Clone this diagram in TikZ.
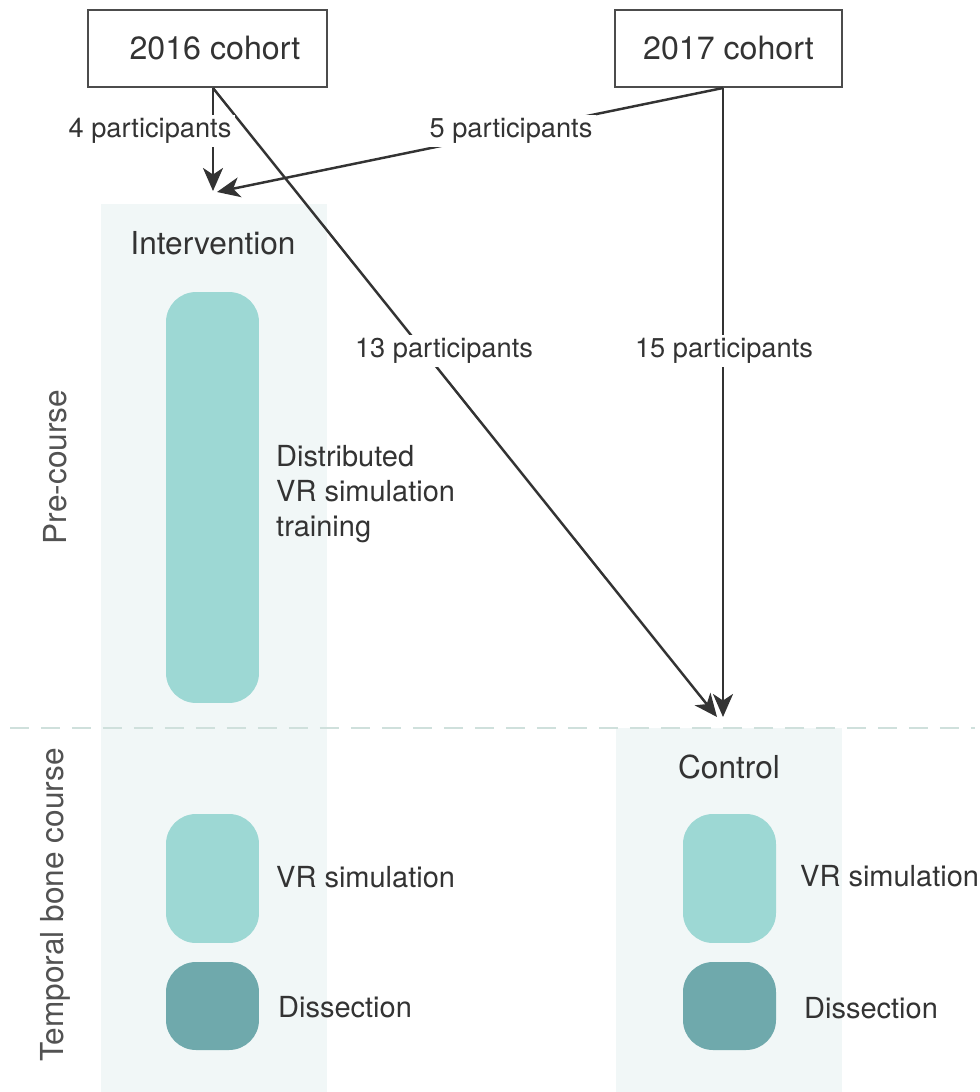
\documentclass[tikz,border=0pt]{standalone}
\usepackage{fontspec}
\setmainfont{TeX Gyre Heros}
\usetikzlibrary{arrows.meta}
\definecolor{txt}{HTML}{333333}
\definecolor{colbg}{HTML}{F1F7F7}
\definecolor{light}{HTML}{9DD8D4}
\definecolor{dark}{HTML}{6FA9AC}
\definecolor{dashc}{HTML}{CFE0DC}
\definecolor{arr}{HTML}{333333}
\tikzset{
  cohort/.style={draw=black!70, line width=0.8pt, minimum height=1.54cm, font=\fontsize{18.3}{22}\selectfont, text=txt},
  head/.style={font=\fontsize{18}{22}\selectfont, text=txt},
  side/.style={font=\fontsize{18}{22}\selectfont, text=txt!85, rotate=90},
  lbl/.style={font=\fontsize{16.5}{20}\selectfont, text=txt, anchor=west, align=left},
  plbl/.style={font=\fontsize{15.5}{19}\selectfont, text=txt, fill=white, inner sep=2pt},
  block/.style={rounded corners=0.6cm, minimum width=1.86cm, inner sep=0pt},
  conn/.style={draw=arr, line width=1.4pt, -{Stealth[length=0.46cm, width=0.4cm, inset=0.13cm]}},
}
\begin{document}
\begin{tikzpicture}[x=0.02cm, y=-0.02cm]
\useasboundingbox (0,0) rectangle (980,1092);
% column backgrounds
\fill[colbg] (101,204) rectangle (327,1092);
\fill[colbg] (616,728) rectangle (842,1092);
% dashed separator
\draw[dashc, line width=1.4pt, dash pattern=on 0.38cm off 0.24cm] (10,728) -- (975,728);
% side labels
\node[side] (pre) at (55,467) {Pre-course};
\node[side] (tbc) at (55,905) {Temporal bone course};
% cohorts
\node[cohort, minimum width=4.78cm] (c16) at (207.5,48.5) {\hspace*{0.3cm}2016 cohort};
\node[cohort, minimum width=4.54cm] (c17) at (728.5,48.5) {2017 cohort};
% group headings
\node[head] (int) at (213,243) {Intervention};
\node[head] (ctl) at (729,767) {Control};
% blocks intervention
\node[block, fill=light, minimum height=8.22cm] (dvr) at (212.5,497.5) {};
\node[lbl] (dvrt) at (270,494) {Distributed\\[0pt]VR simulation\\[0pt]training};
\node[block, fill=light, minimum height=2.58cm] (ivr) at (212.5,878.5) {};
\node[lbl] (ivrt) at (270,877) {VR simulation};
\node[block, fill=dark, minimum height=1.76cm] (ids) at (212.5,1006) {};
\node[lbl] (idst) at (272,1007) {Dissection};
% blocks control
\node[block, fill=light, minimum height=2.58cm] (cvr) at (729.5,878.5) {};
\node[lbl] (cvrt) at (794,876) {VR simulation};
\node[block, fill=dark, minimum height=1.76cm] (cds) at (729.5,1006) {};
\node[lbl] (cdst) at (798,1008) {Dissection};
% connector coordinates
\coordinate (o16) at (213,88);
\coordinate (o17) at (723,88);
\coordinate (t4) at (213,191);
\coordinate (t5) at (217,192);
\coordinate (t13) at (717,717);
\coordinate (t15) at (723,717);
% connectors
\draw[conn] (o16) -- (t13);
\draw[conn] (o17) -- (t15);
\draw[conn] (o16) -- (t4);
\draw[conn] (o17) -- (t5);
% labels
\node[plbl] (p4) at (150,131) {4 participants};
\node[plbl] (p5) at (511,131) {5 participants};
\node[plbl] (p13) at (444,351) {13 participants};
\node[plbl] (p15) at (724,351) {15 participants};
\end{tikzpicture}
\end{document}
